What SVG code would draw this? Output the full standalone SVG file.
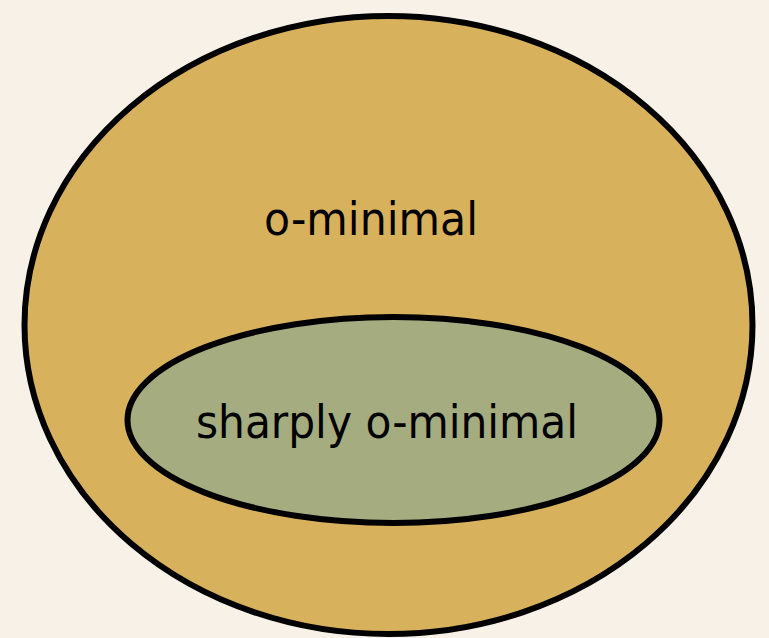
<svg xmlns="http://www.w3.org/2000/svg" width="769" height="638" viewBox="0 0 769 638">
<style>
.lbl{font-family:"DejaVu Sans Condensed","DejaVu Sans",sans-serif;font-stretch:condensed;font-size:46px;fill:#000;}
.sh{stroke:#000;stroke-width:6;}
</style>
<rect width="769" height="638" fill="#F7F1E8"/>
<g id="o-minimal">
<ellipse class="sh" cx="388.5" cy="325" rx="364" ry="309" fill="#D8B15C"/>
<text class="lbl" x="264" y="235" textLength="214" lengthAdjust="spacingAndGlyphs">o-minimal</text>
</g>
<g id="sharply">
<ellipse class="sh" cx="393.5" cy="420" rx="266" ry="103" fill="#A4AC80"/>
<text class="lbl" x="196" y="438" textLength="382" lengthAdjust="spacingAndGlyphs">sharply o-minimal</text>
</g>
<g id="connectors"/>
</svg>
